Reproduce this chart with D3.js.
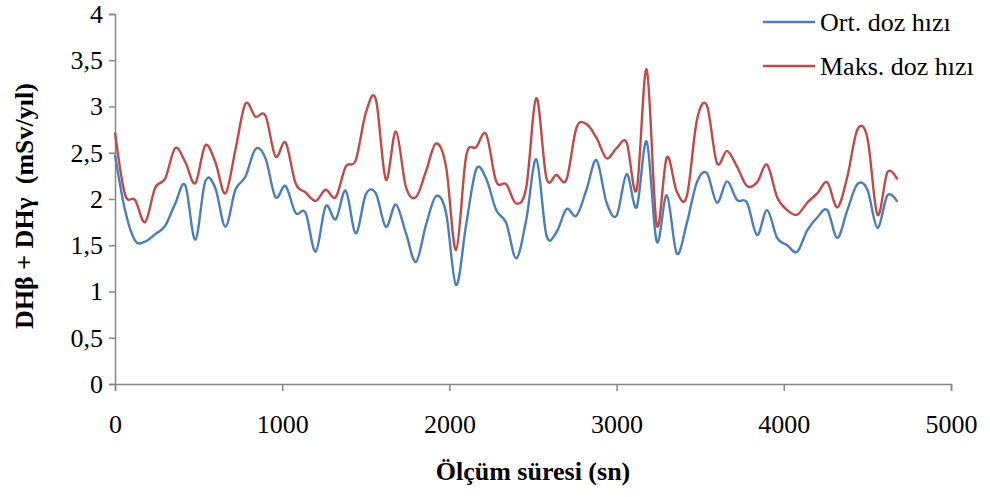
<!DOCTYPE html>
<html>
<head>
<meta charset="utf-8">
<script src="https://cdn.jsdelivr.net/npm/d3@7/dist/d3.min.js"></script>
<style>
  html, body { margin: 0; padding: 0; background: #fff; }
  svg { display: block; }
  text { font-family: "Liberation Serif", "Times New Roman", serif; fill: #000; }
</style>
</head>
<body>
<svg id="chart" width="990" height="497"></svg>
<script>
// Time step 60 s, 0 .. 4680 s
const timeSec = d3.range(0, 4681, 60);

const ortDoz = [
  2.48, 1.88, 1.55, 1.54, 1.62, 1.71, 1.95, 2.15, 1.56, 2.19,
  2.12, 1.70, 2.10, 2.24, 2.54, 2.44, 2.02, 2.14, 1.85, 1.85,
  1.43, 1.92, 1.78, 2.09, 1.63, 2.05, 2.06, 1.70, 1.94, 1.63,
  1.32, 1.72, 2.03, 1.85, 1.07, 1.72, 2.32, 2.22, 1.88, 1.74,
  1.36, 1.78, 2.43, 1.61, 1.64, 1.89, 1.82, 2.10, 2.42, 1.96,
  1.82, 2.27, 1.91, 2.62, 1.54, 2.04, 1.41, 1.74, 2.18, 2.28,
  1.96, 2.19, 1.99, 1.96, 1.61, 1.88, 1.58, 1.50, 1.43, 1.66,
  1.80, 1.88, 1.58, 1.88, 2.16, 2.10, 1.69, 2.04, 1.97
];

const maksDoz = [
  2.72, 2.05, 1.99, 1.75, 2.12, 2.22, 2.55, 2.40, 2.17, 2.58,
  2.40, 2.06, 2.53, 3.03, 2.89, 2.90, 2.46, 2.61, 2.17, 2.07,
  1.98, 2.10, 2.02, 2.35, 2.42, 2.93, 3.08, 2.21, 2.73, 2.13,
  2.02, 2.30, 2.60, 2.35, 1.45, 2.46, 2.56, 2.70, 2.19, 2.16,
  1.95, 2.13, 3.09, 2.23, 2.26, 2.21, 2.77, 2.81, 2.66, 2.44,
  2.55, 2.61, 2.10, 3.40, 1.72, 2.45, 2.08, 2.03, 2.85, 3.01,
  2.39, 2.52, 2.35, 2.14, 2.18, 2.37, 2.02, 1.88, 1.83, 1.96,
  2.06, 2.18, 1.91, 2.24, 2.75, 2.66, 1.83, 2.29, 2.21
];

const xTicks = [0, 1000, 2000, 3000, 4000, 5000];
const yTicks = [0, 0.5, 1, 1.5, 2, 2.5, 3, 3.5, 4];
const seriesNames = ["Ort. doz hızı", "Maks. doz hızı"];
const seriesColors = ["#4A7EBB", "#BE4B48"];
const xTitle = "Ölçüm süresi (sn)";
const yTitle = "DHβ + DHγ  (mSv/yıl)";

const svg = d3.select("#chart");
const x = d3.scaleLinear().domain([0, 5000]).range([115, 951]);
const y = d3.scaleLinear().domain([0, 4]).range([384, 14]);
const axisColor = "#868686";

// Y axis
const gy = svg.append("g").attr("transform", "translate(115,0)")
  .call(d3.axisLeft(y).tickValues(yTicks).tickSize(6).tickPadding(6)
    .tickFormat(d => String(d).replace(".", ",")));
gy.select(".domain").attr("stroke", axisColor).attr("stroke-width", 1.5);
gy.selectAll(".tick line").attr("stroke", axisColor).attr("stroke-width", 1.5);
gy.selectAll(".tick text").attr("font-size", 26).attr("font-family", "Liberation Serif").attr("fill", "#000");

// X axis
const gx = svg.append("g").attr("transform", "translate(0,384)")
  .call(d3.axisBottom(x).tickValues(xTicks).tickSize(7).tickPadding(24)
    .tickFormat(d3.format("d")));
gx.select(".domain").attr("stroke", axisColor).attr("stroke-width", 1.5);
gx.selectAll(".tick line").attr("stroke", axisColor).attr("stroke-width", 1.5);
gx.selectAll(".tick text").attr("font-size", 26).attr("font-family", "Liberation Serif").attr("fill", "#000");

// Lines
const line = d3.line()
  .x((d, i) => x(timeSec[i]))
  .y(d => y(d))
  .curve(d3.curveCardinal.tension(0));

[ortDoz, maksDoz].forEach((vals, k) => {
  svg.append("path")
    .datum(vals)
    .attr("d", line)
    .attr("fill", "none")
    .attr("stroke", seriesColors[k])
    .attr("stroke-width", 2.4)
    .attr("stroke-linejoin", "round");
});

// Legend
const legendY = [22, 66];
seriesNames.forEach((name, k) => {
  svg.append("line")
    .attr("x1", 763).attr("x2", 815)
    .attr("y1", legendY[k]).attr("y2", legendY[k])
    .attr("stroke", seriesColors[k]).attr("stroke-width", 2.4);
  svg.append("text")
    .attr("x", 820).attr("y", legendY[k] + 9)
    .attr("font-size", 26)
    .text(name);
});

// Axis titles
svg.append("text")
  .attr("x", 533).attr("y", 480)
  .attr("text-anchor", "middle")
  .attr("font-family", "Liberation Serif")
  .attr("font-size", 26).attr("font-weight", "bold")
  .text(xTitle);

svg.append("text")
  .attr("transform", "translate(33,206) rotate(-90)")
  .attr("text-anchor", "middle")
  .attr("font-family", "Liberation Serif")
  .attr("font-size", 26).attr("font-weight", "bold")
  .style("white-space", "pre")
  .text(yTitle);
</script>
</body>
</html>
